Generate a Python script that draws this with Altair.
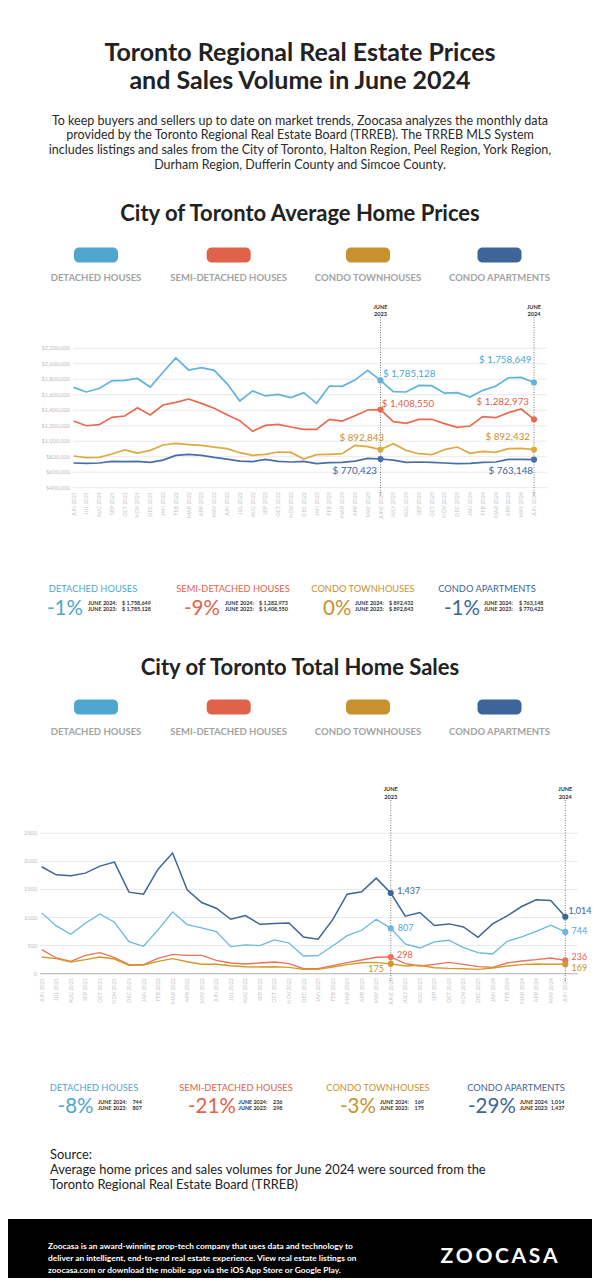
import altair as alt
import pandas as pd

# ---------------- data ----------------
MONTHS = ["JUN 2021", "JUL 2021", "AUG 2021", "SEP 2021", "OCT 2021", "NOV 2021", "DEC 2021",
          "JAN 2022", "FEB 2022", "MAR 2022", "APR 2022", "MAY 2022", "JUN 2022", "JUL 2022",
          "AUG 2022", "SEP 2022", "OCT 2022", "NOV 2022", "DEC 2022", "JAN 2023", "FEB 2023",
          "MAR 2023", "APR 2023", "MAY 2023", "JUNE 2023", "JULY 2023", "AUG 2023", "SEP 2023",
          "OCT 2023", "NOV 2023", "DEC 2023", "JAN 2024", "FEB 2024", "MAR 2024", "APR 2024",
          "MAY 2024", "JUN 2024"]

CATS = ["Detached Houses", "Semi-Detached Houses", "Condo Townhouses", "Condo Apartments"]
LEGEND_LABELS = ["DETACHED HOUSES", "SEMI-DETACHED HOUSES", "CONDO TOWNHOUSES", "CONDO APARTMENTS"]

PRICE_DET = [1696000, 1636000, 1680000, 1780000, 1785000, 1810000, 1700000, 1890000, 2075000,
             1920000, 1950000, 1915000, 1745000, 1520000, 1650000, 1585000, 1605000, 1563000,
             1627000, 1489000, 1713000, 1709000, 1790000, 1916000, 1785128, 1640000, 1636000,
             1720000, 1717000, 1620000, 1627000, 1571000, 1657000, 1709000, 1820000, 1825000,
             1758649]
PRICE_SEMI = [1261000, 1200000, 1214000, 1309000, 1326000, 1433000, 1339000, 1468000, 1502000,
              1545000, 1489000, 1425000, 1343000, 1266000, 1128000, 1205000, 1218000, 1184000,
              1154000, 1154000, 1283000, 1261000, 1330000, 1403000, 1408550, 1253000, 1231000,
              1283000, 1283000, 1227000, 1179000, 1197000, 1317000, 1304000, 1369000, 1416000,
              1282973]
PRICE_TH = [809000, 788000, 792000, 835000, 887000, 848000, 882000, 951000, 973000, 955000,
            947000, 925000, 904000, 852000, 818000, 831000, 861000, 856000, 770000, 826000,
            831000, 839000, 947000, 930000, 892843, 968000, 882000, 839000, 826000, 891000,
            925000, 844000, 869000, 856000, 904000, 908000, 892432]
PRICE_APT = [719000, 714000, 719000, 740000, 736000, 740000, 727000, 757000, 818000, 831000,
             818000, 792000, 770000, 744000, 736000, 766000, 740000, 732000, 740000, 710000,
             723000, 727000, 744000, 779000, 770423, 757000, 727000, 732000, 727000, 719000,
             710000, 714000, 727000, 732000, 766000, 766000, 763148]

SALES_DET = [1083, 851, 702, 898, 1065, 916, 571, 488, 779, 1101, 875, 815, 750, 482, 512, 500,
             601, 547, 315, 321, 494, 678, 773, 970, 807, 530, 458, 565, 595, 464, 375, 351, 577,
             654, 755, 863, 744]
SALES_SEMI = [428, 280, 220, 327, 375, 286, 161, 161, 274, 345, 327, 327, 238, 190, 173, 190,
              208, 179, 89, 89, 143, 196, 244, 292, 298, 179, 137, 167, 202, 167, 125, 113, 190,
              226, 250, 280, 236]
SALES_TH = [298, 268, 208, 250, 298, 262, 149, 155, 220, 268, 214, 167, 167, 143, 125, 119, 125,
            113, 77, 77, 119, 161, 196, 202, 175, 137, 149, 107, 95, 89, 77, 101, 137, 161, 173,
            167, 169]
SALES_APT = [1904, 1761, 1743, 1791, 1916, 1987, 1452, 1416, 1862, 2148, 1493, 1267, 1166, 970,
             1035, 880, 892, 904, 654, 613, 958, 1416, 1458, 1702, 1437, 1023, 1089, 857, 887,
             833, 649, 887, 1029, 1196, 1315, 1303, 1014]

PRICE_TICKS = [400000, 600000, 800000, 1000000, 1200000, 1400000, 1600000, 1800000, 2000000, 2200000]
PRICE_TICK_LABELS = ["$400,000", "$600,000", "$800,000", "$1,000,000", "$1,200,000", "$1,400,000",
                     "$1,600,000", "$1,800,000", "$2,000,000", "$2,200,000"]
SALES_TICKS = [0, 500, 1000, 1500, 2000, 2500]
SALES_TICK_LABELS = ["0", "500", "1000", "1500", "2000", "2500"]

MARKER_MONTHS = ["JUNE 2023", "JUN 2024"]
MARKER_LABELS = ["JUNE\n2023", "JUNE\n2024"]

PRICE_PCT = ["-1%", "-9%", "0%", "-1%"]
SALES_PCT = ["-8%", "-21%", "-3%", "-29%"]
STAT_ROW_LABELS = ["JUNE 2024:", "JUNE 2023:"]

TITLE_LINES = ["Toronto Regional Real Estate Prices", "and Sales Volume in June 2024"]
INTRO_LINES = [
    "To keep buyers and sellers up to date on market trends, Zoocasa analyzes the monthly data",
    "provided by the Toronto Regional Real Estate Board (TRREB). The TRREB MLS System",
    "includes listings and sales from the City of Toronto, Halton Region, Peel Region, York Region,",
    "Durham Region, Dufferin County and Simcoe County.",
]
SECTION_TITLES = ["City of Toronto Average Home Prices", "City of Toronto Total Home Sales"]
SOURCE_LINES = [
    "Source:",
    "Average home prices and sales volumes for June 2024 were sourced from the",
    "Toronto Regional Real Estate Board (TRREB)",
]
FOOTER_LINES = [
    "Zoocasa is an award-winning prop-tech company that uses data and technology to",
    "deliver an intelligent, end-to-end real estate experience. View real estate listings on",
    "zoocasa.com or download the mobile app via the iOS App Store or Google Play.",
]
LOGO = "Z\u2009O\u2009O\u2009C\u2009A\u2009S\u2009A"

# ---------------- styles / layout ----------------
FONT = "Lato"
COLORS = ["#4fa6cf", "#e1624a", "#c8912f", "#3d6599"]
LINE1_COLORS = ["#62b3da", "#e86a51", "#dfa942", "#4a6fa4"]
LINE2_COLORS = ["#6ab8dd", "#ec7259", "#d29a2c", "#3f6597"]
LINE2_WIDTHS = [1.3, 1.5, 1.9, 2.0]

M = 8  # page margin
W, H = 600 - 2 * M, 1286 - 2 * M


def px(x):
    return x - M


def py(y):
    return y - M


def one(d):
    return pd.DataFrame(d)


def long_df(series):
    rows = []
    for c, vals in zip(CATS, series):
        for m, v in zip(MONTHS, vals):
            rows.append({"cat": c, "month": m, "value": v})
    return pd.DataFrame(rows)


price_df = long_df([PRICE_DET, PRICE_SEMI, PRICE_TH, PRICE_APT])
sales_df = long_df([SALES_DET, SALES_SEMI, SALES_TH, SALES_APT])

layers = []


def text_lines(lines, x, y0, lh, size, weight="normal", color="#222", align="center"):
    out = []
    for k, line in enumerate(lines):
        out.append(alt.Chart(one({"t": [line]})).mark_text(
            font=FONT, fontSize=size, fontWeight=weight, color=color, align=align,
            baseline="middle").encode(x=alt.value(px(x)), y=alt.value(py(y0 + k * lh)), text="t:N"))
    return out


# header
layers += text_lines(TITLE_LINES, 300, 52.5, 28.7, 25, "bold", "#222")
layers += text_lines(INTRO_LINES, 300, 120.8, 14.6, 12.5, "normal", "#2a2a2a")


def legend(y_pill, y_lab):
    df = one({"cat": CATS, "label": LEGEND_LABELS, "i": list(range(4))})
    sx = alt.Scale(domain=[0, 1, 2, 3], range=[px(96), px(228.7), px(368), px(499.5)], zero=False, nice=False)
    col = alt.Color("cat:N", scale=alt.Scale(domain=CATS, range=COLORS), legend=None)
    pills = alt.Chart(df).mark_rect(width=44, height=15, cornerRadius=5).encode(
        x=alt.X("i:Q", scale=sx, axis=None), y=alt.value(py(y_pill)), color=col)
    labs = alt.Chart(df).mark_text(font=FONT, fontSize=9.5, fontWeight="bold", color="#a3a3a3",
                                   baseline="middle").encode(
        x=alt.X("i:Q", scale=sx, axis=None), y=alt.value(py(y_lab)), text="label:N")
    return [pills, labs]


def chart_layers(df, xr, yd, yr, ticks, tick_labels, tick_x, grid_x, xlab_y, rule_y, mark_y,
                 line_colors, widths, anns, fmt, label_size, baseline_rule=False):
    X = alt.Scale(type="point", domain=MONTHS, range=[px(xr[0]), px(xr[1])], padding=0)
    Y = alt.Scale(domain=yd, range=[py(yr[0]), py(yr[1])], nice=False, zero=False)
    out = []
    tdf = one({"v": ticks, "label": tick_labels})
    out.append(alt.Chart(tdf).mark_rule(color="#e9e9e9", strokeWidth=1).encode(
        y=alt.Y("v:Q", scale=Y, axis=None), x=alt.value(px(grid_x[0])), x2=alt.value(px(grid_x[1]))))
    if baseline_rule:
        out.append(alt.Chart(one({"v": [ticks[0]]})).mark_rule(color="#c4c4c4", strokeWidth=1.2).encode(
            y=alt.Y("v:Q", scale=Y, axis=None), x=alt.value(px(grid_x[0])), x2=alt.value(px(grid_x[1]))))
    out.append(alt.Chart(tdf).mark_text(font=FONT, fontSize=5.6, color="#bdbdbd", align="right",
                                        baseline="middle").encode(
        y=alt.Y("v:Q", scale=Y, axis=None), x=alt.value(px(tick_x)), text="label:N"))
    mdf = one({"month": MONTHS})
    out.append(alt.Chart(mdf).mark_text(font=FONT, fontSize=5.4, color="#c6c6c6", angle=270,
                                        align="right", baseline="middle").encode(
        x=alt.X("month:O", scale=X, axis=None), y=alt.value(py(xlab_y)), text="month:N"))
    col = alt.Color("cat:N", scale=alt.Scale(domain=CATS, range=line_colors), legend=None)
    enc = dict(x=alt.X("month:O", scale=X, axis=None), y=alt.Y("value:Q", scale=Y, axis=None), color=col)
    if isinstance(widths, list):
        out.append(alt.Chart(df).mark_line().encode(
            strokeWidth=alt.StrokeWidth("cat:N", scale=alt.Scale(domain=CATS, range=widths), legend=None), **enc))
    else:
        out.append(alt.Chart(df).mark_line(strokeWidth=widths).encode(**enc))
    kdf = one({"month": MARKER_MONTHS, "t": MARKER_LABELS})
    out.append(alt.Chart(kdf).mark_rule(color="#555", strokeWidth=0.8, strokeDash=[1, 1.5]).encode(
        x=alt.X("month:O", scale=X, axis=None), y=alt.value(py(rule_y[0])), y2=alt.value(py(rule_y[1]))))
    out.append(alt.Chart(kdf).mark_text(font=FONT, fontSize=5.6, fontWeight="bold", color="#333",
                                        baseline="top", lineBreak="\n", lineHeight=7.4).encode(
        x=alt.X("month:O", scale=X, axis=None), y=alt.value(py(mark_y)), text="t:N"))
    ddf = df[df["month"].isin(MARKER_MONTHS)]
    out.append(alt.Chart(ddf).mark_circle(size=38, opacity=1).encode(**enc))
    for ci, month, align, dx, dy in anns:
        sub = df[(df["cat"] == CATS[ci]) & (df["month"] == month)].copy()
        sub["label"] = [fmt(v) for v in sub["value"]]
        out.append(alt.Chart(sub).mark_text(font=FONT, fontSize=label_size, align=align,
                                            baseline="middle", dx=dx, dy=dy).encode(
            x=alt.X("month:O", scale=X, axis=None), y=alt.Y("value:Q", scale=Y, axis=None),
            text="label:N", color=alt.Color("cat:N", scale=alt.Scale(domain=CATS, range=COLORS), legend=None)))
    return out


def stats(pcts, values, fmt, name_x, pct_x, jl_x, val_x, y_name, y_pct, y_rows):
    df = one({"cat": CATS, "label": LEGEND_LABELS, "i": list(range(4)), "pct": pcts,
              "jl": ["\n".join(STAT_ROW_LABELS)] * 4,
              "vals": [fmt(v[-1]) + "\n" + fmt(v[24]) for v in values]})
    col = alt.Color("cat:N", scale=alt.Scale(domain=CATS, range=COLORS), legend=None)

    def sc(r):
        return alt.X("i:Q", scale=alt.Scale(domain=[0, 1, 2, 3], range=[px(v) for v in r],
                                            zero=False, nice=False), axis=None)
    out = [
        alt.Chart(df).mark_text(font=FONT, fontSize=9.3, baseline="middle").encode(
            x=sc(name_x), y=alt.value(py(y_name)), text="label:N", color=col),
        alt.Chart(df).mark_text(font=FONT, fontSize=20.5, align="left", baseline="middle").encode(
            x=sc(pct_x), y=alt.value(py(y_pct)), text="pct:N", color=col),
        alt.Chart(df).mark_text(font=FONT, fontSize=5.4, fontWeight="bold", color="#333", align="left",
                                baseline="top", lineBreak="\n", lineHeight=6.6).encode(
            x=sc(jl_x), y=alt.value(py(y_rows)), text="jl:N"),
        alt.Chart(df).mark_text(font=FONT, fontSize=5.4, fontWeight="bold", color="#333", align="left",
                                baseline="top", lineBreak="\n", lineHeight=6.6).encode(
            x=sc(val_x), y=alt.value(py(y_rows)), text="vals:N"),
    ]
    return out


def money(v):
    return "$ {:,}".format(v)


def count(v):
    return "{:,}".format(v)


# ----- section 1: prices -----
layers += text_lines([SECTION_TITLES[0]], 300, 214, 0, 22, "bold", "#222")
layers += legend(255, 278.3)
ann1 = [
    (0, "JUNE 2023", "left", 2.5, -6.4), (0, "JUN 2024", "right", -2.5, -22.5),
    (1, "JUNE 2023", "left", 1.2, -5.6), (1, "JUN 2024", "right", -5, -17.6),
    (2, "JUNE 2023", "right", 3.5, -11.5), (2, "JUN 2024", "right", -4, -12.8),
    (3, "JUNE 2023", "right", -3.5, 11.7), (3, "JUN 2024", "right", -1, 11.1),
]
layers += chart_layers(price_df, (73.5, 534), [400000, 2200000], (487.7, 348.3), PRICE_TICKS,
                       PRICE_TICK_LABELS, 70, (73, 547), 492, (317, 497), 304.5, LINE1_COLORS, 1.7,
                       ann1, money, 9.8)
layers += stats(PRICE_PCT, [PRICE_DET, PRICE_SEMI, PRICE_TH, PRICE_APT], money,
                [93, 233, 363, 487], [47, 184, 323, 444], [88, 225, 355, 484], [122, 259, 389, 519],
                588.5, 609, 600.5)

# ----- section 2: sales -----
layers += text_lines([SECTION_TITLES[1]], 300, 668, 0, 22, "bold", "#222")
layers += legend(707, 731.5)
ann2 = [
    (3, "JUNE 2023", "left", 6.5, -2), (0, "JUNE 2023", "left", 7, -0.7),
    (1, "JUNE 2023", "left", 6.3, -2), (2, "JUNE 2023", "right", -6.8, 5),
    (3, "JUN 2024", "left", 3.2, -6), (0, "JUN 2024", "left", 6.2, -1),
    (1, "JUN 2024", "left", 6.2, -3.4), (2, "JUN 2024", "left", 6.2, 4),
]
layers += chart_layers(sales_df, (41.7, 565.3), [0, 2500], (973.7, 833.3), SALES_TICKS,
                       SALES_TICK_LABELS, 37, (40, 578), 978, (800, 982), 787.2, LINE2_COLORS,
                       LINE2_WIDTHS, ann2, count, 9.0, baseline_rule=True)
layers += stats(SALES_PCT, [SALES_DET, SALES_SEMI, SALES_TH, SALES_APT], count,
                [94, 236, 378, 516], [57.6, 188, 340, 468], [98, 238.6, 380, 519.7],
                [132.4, 273, 414.5, 550.7], 1087.5, 1107, 1099.5)

# ----- source -----
layers += text_lines(SOURCE_LINES, 50, 1154.5, 15.2, 12.9, "normal", "#222", align="left")

# ----- footer -----
layers.append(alt.Chart(one({"t": [LOGO]})).mark_rect(color="#000").encode(
    x=alt.value(0), x2=alt.value(W), y=alt.value(py(1219)), y2=alt.value(H)))
layers += text_lines(FOOTER_LINES, 48, 1245.5, 12, 8.4, "bold", "#ffffff", align="left")
layers.append(alt.Chart(one({"t": [LOGO]})).mark_text(
    font=FONT, fontSize=21, fontWeight="bold", color="#ffffff", baseline="middle").encode(
    x=alt.value(px(499)), y=alt.value(py(1256.5)), text="t:N"))

chart = alt.layer(*layers).resolve_scale(
    x="independent", y="independent", color="independent", strokeWidth="independent"
).properties(
    width=W, height=H, autosize=alt.AutoSizeParams(type="none"), padding=0
).configure_view(stroke=None)

chart.save("out.html", embed_options={"renderer": "svg", "actions": False})
